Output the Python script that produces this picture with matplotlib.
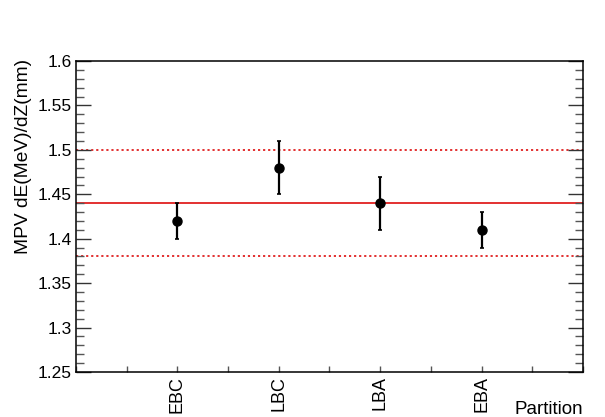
import numpy as np
import matplotlib.pyplot as plt
from matplotlib.ticker import MultipleLocator, FuncFormatter

plt.rcParams['font.family'] = ['Liberation Sans', 'DejaVu Sans']

# Datos
particiones = ['EBC', 'LBC', 'LBA', 'EBA']
mpv = [1.42, 1.48, 1.44, 1.41]
err = [0.02, 0.03, 0.03, 0.02]
media = 1.44
banda = [1.38, 1.50]

x = np.arange(2, 2 * len(particiones) + 1, 2)

fig = plt.figure(figsize=(6.05, 4.17), dpi=100)
ax = fig.add_axes([0.1256, 0.1079, 0.8380, 0.7458])

ax.axhline(media, color='#e02020', lw=1.3, zorder=1)
for b in banda:
    ax.axhline(b, color='#e02020', lw=1.3, ls=(0, (1.2, 1.6)), zorder=1)

ax.errorbar(x, mpv, yerr=err, fmt='o', color='black', ms=6.5,
            elinewidth=1.6, capsize=1.5, capthick=1.2, zorder=3)

ax.set_xlim(0, 10)
ax.set_ylim(1.25, 1.6)
ax.set_xticks(np.arange(0, 11, 1))
ax.set_xticklabels(['' if i not in x else particiones[list(x).index(i)]
                    for i in range(11)], rotation=90, fontsize=13)
ax.yaxis.set_major_locator(MultipleLocator(0.05))
ax.yaxis.set_minor_locator(MultipleLocator(0.01))
ax.yaxis.set_major_formatter(FuncFormatter(lambda v, p: '%g' % round(v, 2)))

ax.tick_params(axis='y', which='major', direction='in', length=11, width=1,
               right=True, labelsize=12.5, color='#333333', pad=3)
ax.tick_params(axis='y', which='minor', direction='in', length=5.5, width=1,
               right=True, color='#555555')
ax.tick_params(axis='x', which='major', direction='in', length=4.5, width=1,
               color='#555555', pad=3)

for s in ax.spines.values():
    s.set_linewidth(1.1)

ax.set_ylabel('MPV dE(MeV)/dZ(mm)', fontsize=13.8, ha='right', va='center')
ax.yaxis.set_label_coords(-0.104, 1.007)
fig.text(0.9636, 0.006, 'Partition', ha='right', va='baseline', fontsize=13.5)

plt.savefig('out.png', dpi=100)
